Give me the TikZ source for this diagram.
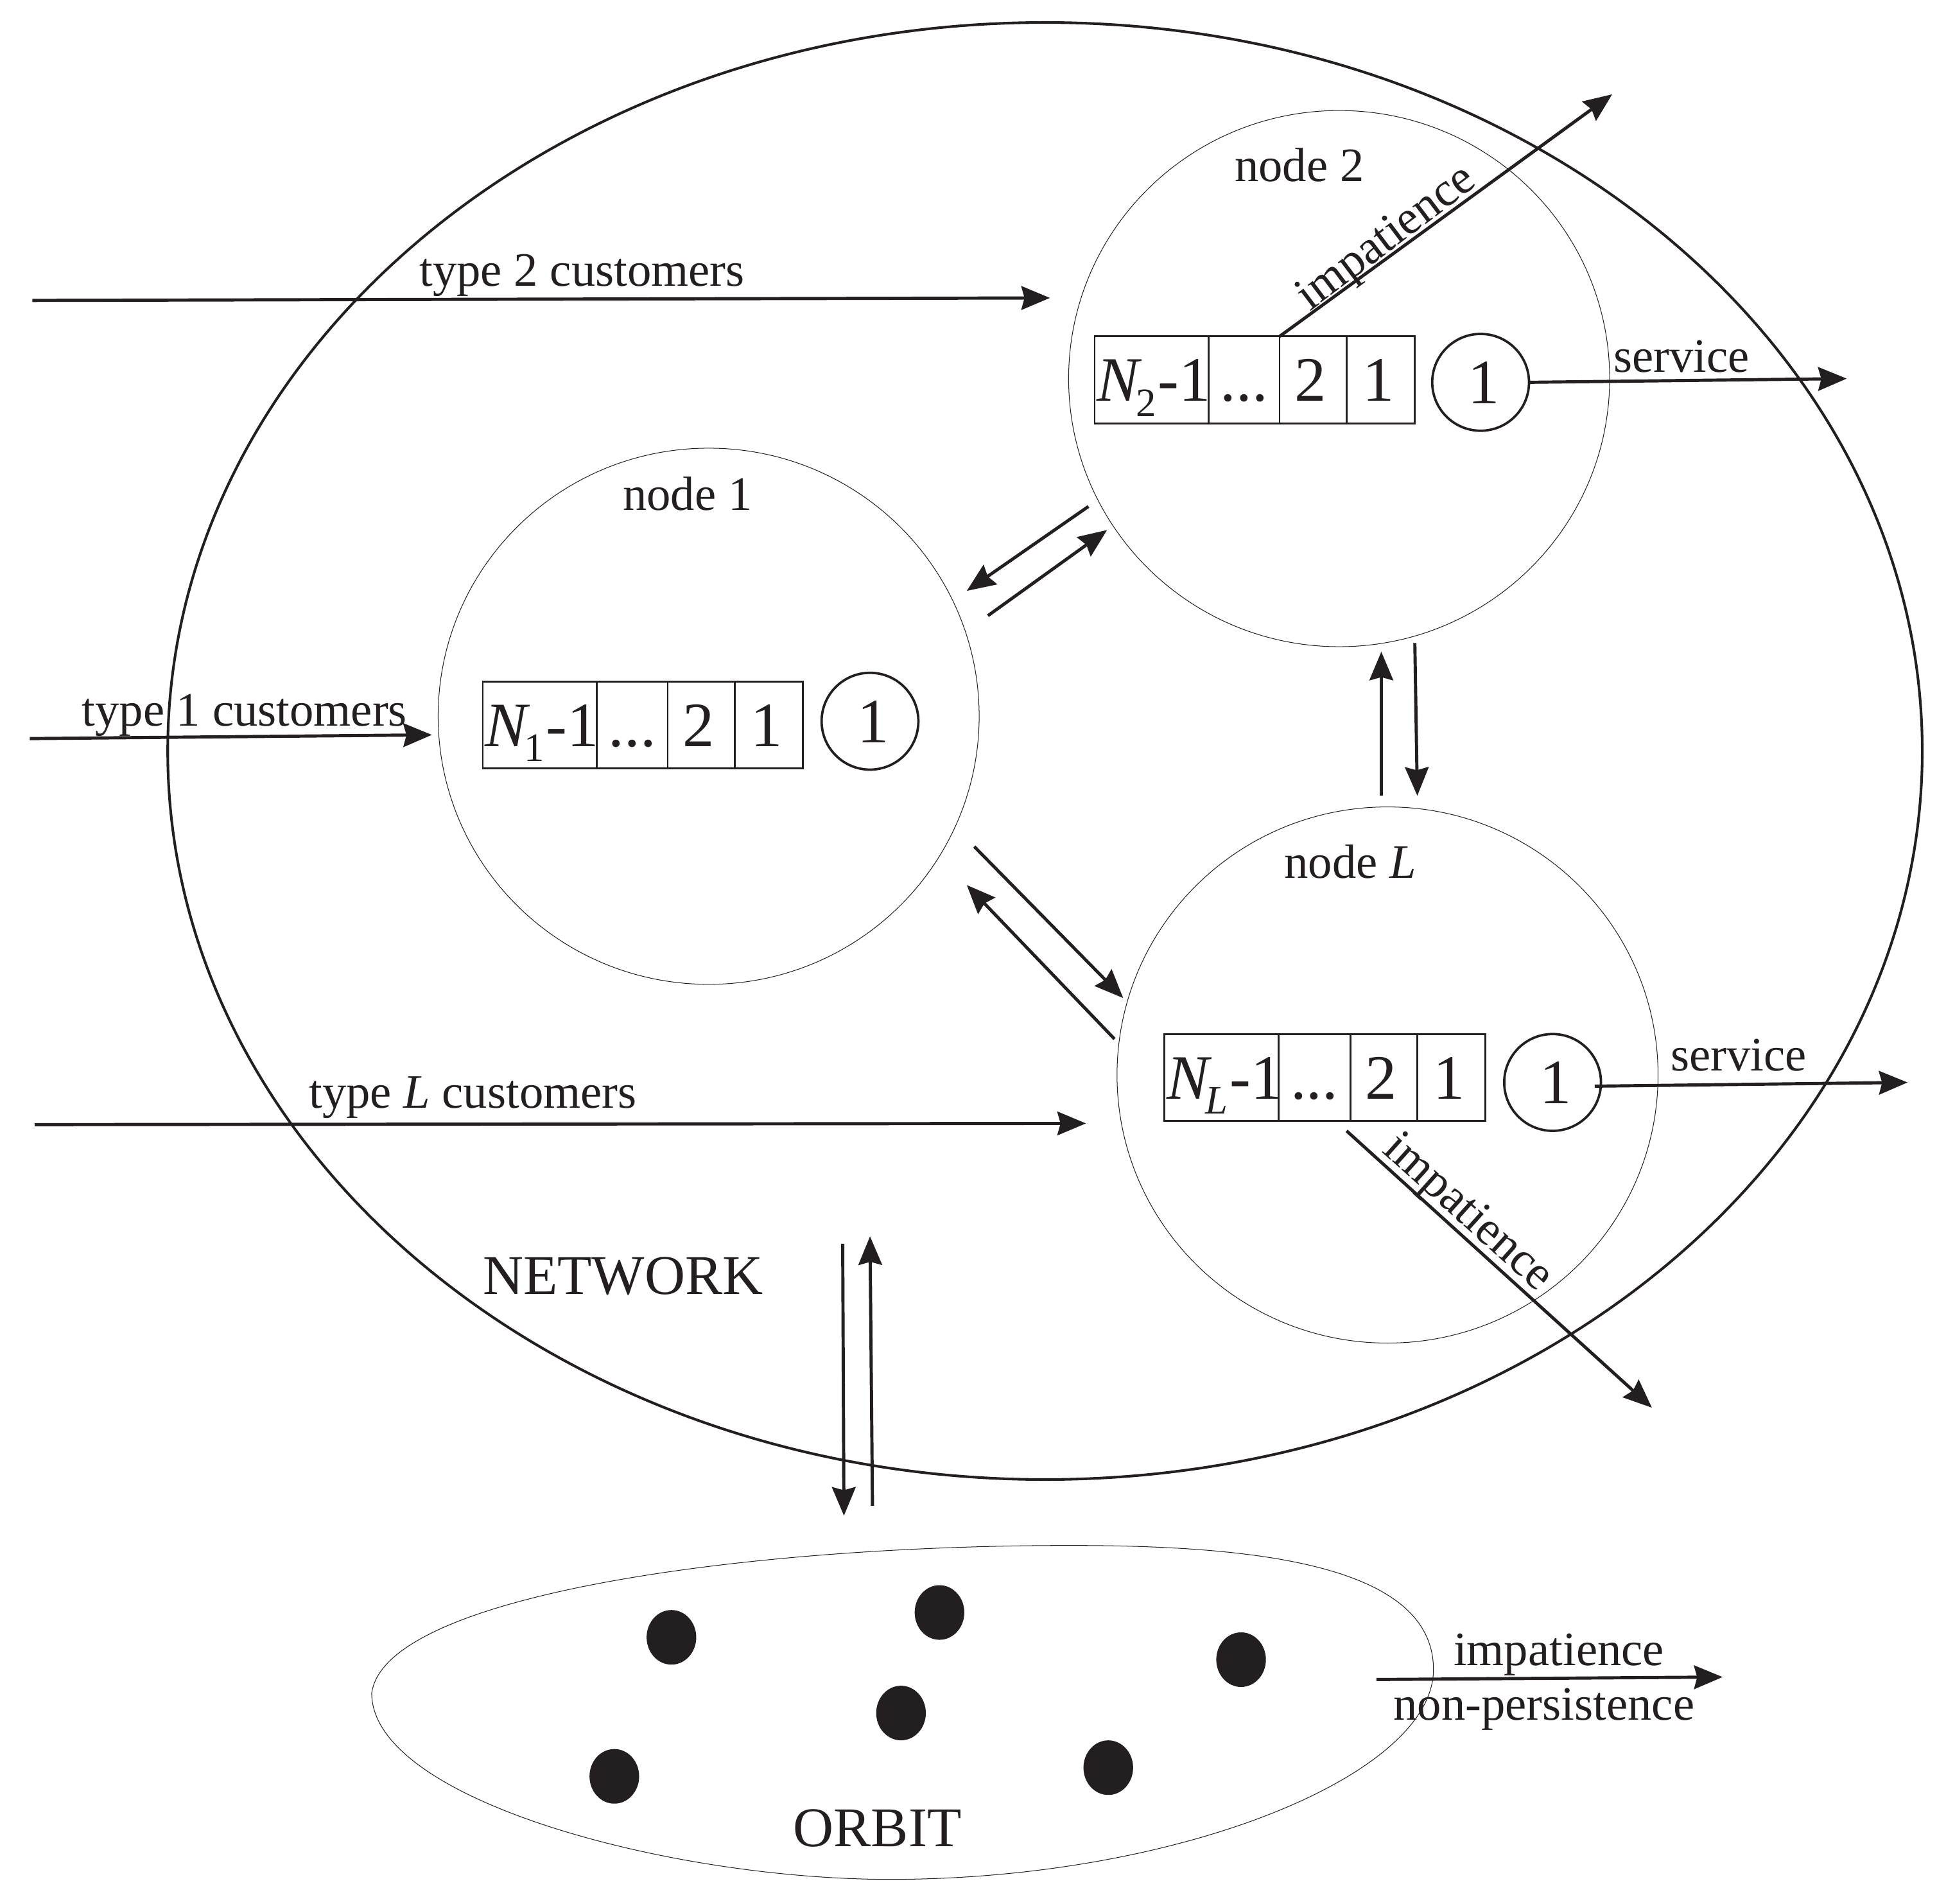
\documentclass[tikz,border=0pt]{standalone}
\usepackage{fontspec}
\setmainfont{Liberation Serif}
\usetikzlibrary{arrows.meta,shapes.geometric}
\definecolor{ink}{HTML}{231F20}
\newcommand{\qlabel}[1]{\makebox[1.84cm][l]{\kern.04cm\textit{N}\kern-.1cm\raisebox{-.24cm}{\fontsize{18.5}{18.5}\selectfont #1}\kern.03cm-1}}
\newcommand{\celldigit}[1]{\kern-.08cm #1}
\newcommand{\servedigit}[1]{\kern.1cm #1}
\tikzset{
  px/.style={x=0.02cm,y=-0.02cm},
  netshape/.style={ellipse,draw=ink,line width=1.2pt,inner sep=0,outer sep=0,minimum width=28.28cm,minimum height=23.48cm},
  stationshape/.style={ellipse,draw=ink,line width=.3pt,inner sep=0,outer sep=0,minimum width=8.72cm,minimum height=8.64cm},
  cell/.style={rectangle,draw=ink,line width=.85pt,inner sep=0,outer sep=0,minimum height=1.4cm,text height=.69cm,text depth=0pt,text=ink,font=\fontsize{29}{29}\selectfont},
  server/.style={circle,draw=ink,line width=1.1pt,inner sep=0,outer sep=0,minimum size=1.56cm,text height=.69cm,text depth=0pt,text=ink,font=\fontsize{29}{29}\selectfont},
  flow/.style={draw=ink,line width=1.45pt,-{Stealth[length=.46cm,width=.38cm,inset=.05cm]}},
  lab/.style={text=ink,inner sep=0,font=\fontsize{22}{24}\selectfont},
  biglab/.style={text=ink,inner sep=0,font=\fontsize{25.7}{28}\selectfont},
  dot/.style={ellipse,fill=ink,inner sep=0,minimum width=.8cm,minimum height=.88cm},
}
\begin{document}
\begin{tikzpicture}[px]
\useasboundingbox (0,0) rectangle (1568,1533.8);
% outer shapes
\node[netshape] (net) at (842,605) {};
\node[stationshape] (n1) at (571,577) {};
\node[stationshape] (n2) at (1079,305) {};
\node[stationshape] (nL) at (1118,866) {};
\draw[ink,line width=.3pt] (299.5,1364) .. controls (310,1285) and (600,1245) .. (862,1245)
  .. controls (1010,1245) and (1155,1260) .. (1155,1345)
  .. controls (1155,1430) and (950,1514) .. (717,1514)
  .. controls (540,1514) and (299.5,1450) .. (299.5,1364) -- cycle;
% queues
\node[cell,minimum width=1.84cm] (a1) at (435,584) {\qlabel{1}};
\node[cell,minimum width=1.14cm] (a2) at (509.5,584) {...};
\node[cell,minimum width=1.08cm] (a3) at (565,584) {\celldigit{2}};
\node[cell,minimum width=1.10cm] (a4) at (619.5,584) {\celldigit{1}};
\node[server] (s1) at (701,581) {\servedigit{1}};
\node[cell,minimum width=1.84cm] (b1) at (928,306) {\qlabel{2}};
\node[cell,minimum width=1.14cm] (b2) at (1002.5,306) {...};
\node[cell,minimum width=1.08cm] (b3) at (1058,306) {\celldigit{2}};
\node[cell,minimum width=1.10cm] (b4) at (1112.5,306) {\celldigit{1}};
\node[server] (s2) at (1193,308) {\servedigit{1}};
\node[cell,minimum width=1.84cm] (c1) at (984,868) {\qlabel{\itshape L}};
\node[cell,minimum width=1.16cm] (c2) at (1059,868) {...};
\node[cell,minimum width=1.08cm] (c3) at (1115,868) {\celldigit{2}};
\node[cell,minimum width=1.10cm] (c4) at (1169.5,868) {\celldigit{1}};
\node[server] (s3) at (1251,872) {\servedigit{1}};
% dots
\node[dot] (d1) at (541,1319) {};
\node[dot] (d2) at (757,1299) {};
\node[dot] (d3) at (1000,1337) {};
\node[dot] (d4) at (726,1380) {};
\node[dot] (d5) at (495,1431) {};
\node[dot] (d6) at (893,1424) {};
% free ends
\coordinate (t2a) at (26,242); \coordinate (t2b) at (846,240);
\coordinate (t1a) at (24,595); \coordinate (t1b) at (348,592);
\coordinate (tLa) at (28,906); \coordinate (tLb) at (875,905);
\coordinate (sv2) at (1488,305); \coordinate (svL) at (1537,872);
\coordinate (sv3a) at (1285,875);
\coordinate (im2) at (1299,76);
\coordinate (imLa) at (1085,911); \coordinate (imLb) at (1331,1134);
\coordinate (p1) at (877,408); \coordinate (p2) at (779,476);
\coordinate (p3) at (796,496); \coordinate (p4) at (892,427);
\coordinate (q1) at (1113,641); \coordinate (q2) at (1113,525);
\coordinate (q3) at (1140,518); \coordinate (q4) at (1142,641);
\coordinate (r1) at (785,682); \coordinate (r2) at (905,804);
\coordinate (r3) at (898,837); \coordinate (r4) at (779,713);
\coordinate (o1) at (679,1002); \coordinate (o2) at (680,1221);
\coordinate (o3) at (703,1213); \coordinate (o4) at (701,996);
\coordinate (oa) at (1109,1353); \coordinate (ob) at (1388,1351);
% connectors
\draw[flow] (t2a) -- (t2b);
\draw[flow] (t1a) -- (t1b);
\draw[flow] (tLa) -- (tLb);
\draw[flow] (s2.east) -- (sv2);
\draw[flow] (sv3a) -- (svL);
\draw[flow] (b2.north east) -- (im2);
\draw[flow] (imLa) -- (imLb);
\draw[flow] (p1) -- (p2);
\draw[flow] (p3) -- (p4);
\draw[flow] (q1) -- (q2);
\draw[flow] (q3) -- (q4);
\draw[flow] (r1) -- (r2);
\draw[flow] (r3) -- (r4);
\draw[flow] (o1) -- (o2);
\draw[flow] (o3) -- (o4);
\draw[flow] (oa) -- (ob);
% labels
\node[lab] (l1) at (469,222) {type 2 customers};
\node[lab] (l2) at (197,576) {type 1 customers};
\node[lab] (l3) at (381,884) {type \textit{L} customers};
\node[lab] (l4) at (1355,287) {service};
\node[lab] (l5) at (1401,850) {service};
\node[lab,rotate=37] (l6) at (1118,193) {impatience};
\node[lab,rotate=-42] (l7) at (1182,978) {impatience};
\node[lab] (l8) at (1256,1333) {impatience};
\node[lab] (l9) at (1244,1377) {non-persistence};
\node[lab] (l10) at (554,398) {node 1};
\node[lab] (l11) at (1047,133) {node 2};
\node[lab] (l12) at (1088,694) {node \textit{L}};
\node[biglab] (l13) at (502,1028) {NETWORK};
\node[biglab] (l14) at (707,1473) {ORBIT};
\end{tikzpicture}
\end{document}
